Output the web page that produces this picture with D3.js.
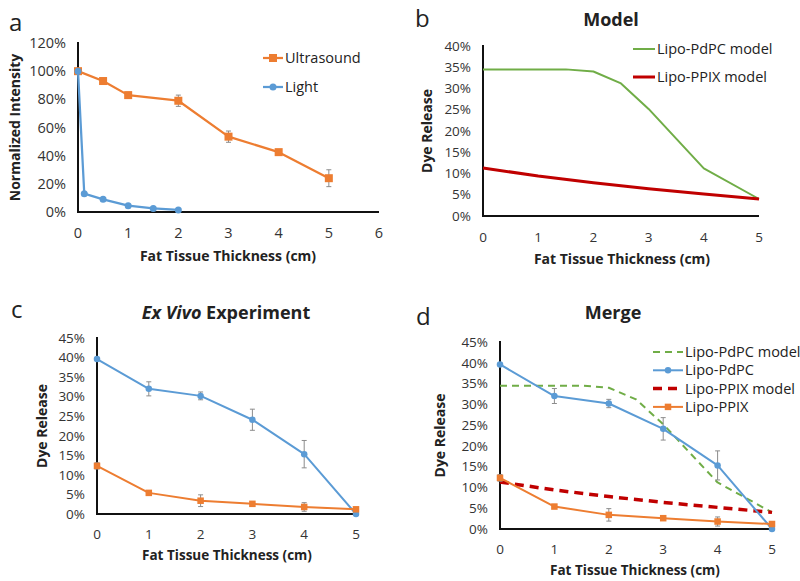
<!DOCTYPE html>
<html>
<head>
<meta charset="utf-8">
<script src="https://cdn.jsdelivr.net/npm/d3@7"></script>
<style>
  body { margin: 0; background: #fff; }
  text { font-family: "Open Sans", "Liberation Sans", sans-serif; fill: #222; }
  .tick-label { fill: #333; }
  .axis-title { font-weight: bold; }
  .panel-title { font-size: 18px; font-weight: bold; }
  .panel-letter { font-size: 24px; }
  .legend-text { font-size: 14.5px; }
</style>
</head>
<body>
<svg id="chart" width="800" height="581"></svg>
<script>
// Colours
const ORANGE = "#ED7D31";
const BLUE = "#5B9BD5";
const GREEN = "#70AD47";
const RED = "#C00000";
const ERR = "#8c8c8c";

// --- Panel a data ---
const usX = [0, 0.5, 1, 2, 3, 4, 5];
const usY = [100, 93, 83, 79, 53.5, 42.5, 24];
const usErr = [0, 1, 2, 4, 4, 0, 6];
const lightX = [0, 0.125, 0.5, 1, 1.5, 2];
const lightY = [100, 13, 9, 4.5, 2.5, 1.5];
const aYTicks = [0, 20, 40, 60, 80, 100, 120];
const aXTicks = [0, 1, 2, 3, 4, 5, 6];

// --- Panel b data (model) ---
const pdpcModelX = [0, 1, 1.5, 2, 2.5, 3, 3.5, 4, 5];
const pdpcModelY = [34.5, 34.5, 34.5, 34, 31.2, 25.2, 18.2, 11.2, 4];
const ppixModelX = [0, 1, 2, 3, 4, 5];
const ppixModelY = [11.3, 9.4, 7.8, 6.4, 5.2, 4.0];
const bYTicks = [0, 5, 10, 15, 20, 25, 30, 35, 40];

// --- Panel c / d data (ex vivo) ---
const expX = [0, 1, 2, 3, 4, 5];
const pdpcY = [39.6, 32, 30.2, 24.1, 15.3, 0];
const pdpcErr = [0, 1.8, 1.0, 2.7, 3.5, 0];
const ppixY = [12.3, 5.4, 3.4, 2.6, 1.8, 1.2];
const ppixErr = [0.8, 0, 1.5, 0.5, 1.1, 0];
const cYTicks = [0, 5, 10, 15, 20, 25, 30, 35, 40, 45];
const cXTicks = [0, 1, 2, 3, 4, 5];

const svg = d3.select("#chart");

function zip(xs, ys, es) {
  return xs.map((x, i) => ({x: x, y: ys[i], e: es ? es[i] : 0}));
}

function drawPanel(p) {
  const g = svg.append("g");
  const x = d3.scaleLinear().domain(p.xDomain).range([p.left, p.right]);
  const y = d3.scaleLinear().domain(p.yDomain).range([p.bottom, p.top]);

  // y tick labels
  g.selectAll("text.ytick").data(p.yTicks).enter().append("text")
    .attr("class", "tick-label")
    .style("font-size", p.tickSize + "px")
    .attr("x", p.left - 12)
    .attr("y", d => y(d))
    .attr("dy", "0.35em")
    .attr("text-anchor", "end")
    .text(d => d + "%");

  // x tick labels
  g.selectAll("text.xtick").data(p.xTicks).enter().append("text")
    .attr("class", "tick-label")
    .style("font-size", p.tickSize + "px")
    .attr("x", d => x(d))
    .attr("y", p.bottom + p.xTickGap)
    .attr("text-anchor", "middle")
    .text(d => d);

  // axes lines
  g.append("line").attr("x1", p.left).attr("x2", p.left)
    .attr("y1", y(p.yDomain[1]) - 1).attr("y2", p.bottom + 1)
    .attr("stroke", "#111").attr("stroke-width", 2);
  g.append("line").attr("x1", p.left - 1).attr("x2", p.right)
    .attr("y1", p.bottom).attr("y2", p.bottom)
    .attr("stroke", "#111").attr("stroke-width", 2);

  // axis titles
  g.append("text").attr("class", "axis-title")
    .style("font-size", "14px")
    .attr("transform", `translate(${p.yTitleX},${(p.top + p.bottom) / 2}) rotate(-90)`)
    .attr("text-anchor", "middle").attr("dy", "0.35em")
    .text(p.yTitle);
  g.append("text").attr("class", "axis-title")
    .style("font-size", p.xTitleSize + "px")
    .attr("x", p.xTitleX).attr("y", p.xTitleY)
    .attr("text-anchor", "middle")
    .text("Fat Tissue Thickness (cm)");

  // panel letter
  g.append("text").attr("class", "panel-letter")
    .attr("x", p.letterX).attr("y", p.letterY).text(p.letter);

  // title
  if (p.title) {
    const t = g.append("text").attr("class", "panel-title")
      .attr("x", p.titleX).attr("y", p.titleY).attr("text-anchor", "middle");
    p.title.forEach(part => {
      t.append("tspan").style("font-style", part.italic ? "italic" : "normal").text(part.text);
    });
  }

  const line = d3.line().x(d => x(d.x)).y(d => y(d.y));

  p.series.forEach(s => {
    const data = zip(s.xs, s.ys, s.errs);
    g.append("path").datum(data)
      .attr("d", line)
      .attr("fill", "none")
      .attr("stroke", s.color)
      .attr("stroke-width", s.width)
      .attr("stroke-dasharray", s.dash || null)
      .attr("stroke-linejoin", "round");

    if (s.errs) {
      const eb = g.selectAll(null).data(data.filter(d => d.e > 0)).enter().append("g");
      eb.append("line").attr("x1", d => x(d.x)).attr("x2", d => x(d.x))
        .attr("y1", d => y(d.y - d.e)).attr("y2", d => y(d.y + d.e))
        .attr("stroke", ERR).attr("stroke-width", 1);
      [-1, 1].forEach(sg => {
        eb.append("line").attr("x1", d => x(d.x) - 2.5).attr("x2", d => x(d.x) + 2.5)
          .attr("y1", d => y(d.y + sg * d.e)).attr("y2", d => y(d.y + sg * d.e))
          .attr("stroke", ERR).attr("stroke-width", 1);
      });
    }

    if (s.marker === "square") {
      g.selectAll(null).data(data).enter().append("rect")
        .attr("x", d => x(d.x) - s.size / 2).attr("y", d => y(d.y) - s.size / 2)
        .attr("width", s.size).attr("height", s.size)
        .attr("fill", s.color);
    } else if (s.marker === "circle") {
      g.selectAll(null).data(data).enter().append("circle")
        .attr("cx", d => x(d.x)).attr("cy", d => y(d.y))
        .attr("r", s.size / 2).attr("fill", s.color);
    }
  });

  // legend
  if (p.legend) {
    p.legend.forEach((item, i) => {
      const ly = p.legendY + i * p.legendStep;
      const s = item.series;
      g.append("line").attr("x1", p.legendX).attr("x2", p.legendX + p.legendLen)
        .attr("y1", ly).attr("y2", ly)
        .attr("stroke", s.color).attr("stroke-width", s.width)
        .attr("stroke-dasharray", s.dash || null);
      const mx = p.legendX + p.legendLen / 2;
      if (s.marker === "square") {
        g.append("rect").attr("x", mx - s.size / 2).attr("y", ly - s.size / 2)
          .attr("width", s.size).attr("height", s.size).attr("fill", s.color);
      } else if (s.marker === "circle") {
        g.append("circle").attr("cx", mx).attr("cy", ly).attr("r", s.size / 2).attr("fill", s.color);
      }
      g.append("text").attr("class", "legend-text")
        .attr("x", p.legendX + p.legendLen + 2).attr("y", ly).attr("dy", "0.35em")
        .text(item.label);
    });
  }
}

// series definitions
const sUltrasound = {xs: usX, ys: usY, errs: usErr, color: ORANGE, width: 2.25, marker: "square", size: 8};
const sLight = {xs: lightX, ys: lightY, color: BLUE, width: 2.25, marker: "circle", size: 7};
const sPdpcModel = {xs: pdpcModelX, ys: pdpcModelY, color: GREEN, width: 2};
const sPpixModel = {xs: ppixModelX, ys: ppixModelY, color: RED, width: 3};
const sPdpcModelDash = {xs: pdpcModelX, ys: pdpcModelY, color: GREEN, width: 2, dash: "7,5"};
const sPpixModelDash = {xs: ppixModelX, ys: ppixModelY, color: RED, width: 3.5, dash: "9,6"};
const sPdpc = {xs: expX, ys: pdpcY, errs: pdpcErr, color: BLUE, width: 2, marker: "circle", size: 6.5};
const sPpix = {xs: expX, ys: ppixY, errs: ppixErr, color: ORANGE, width: 2, marker: "square", size: 6.5};

// a
drawPanel({
  left: 78, right: 379, top: 43, bottom: 212,
  xDomain: [0, 6], yDomain: [0, 120], xTicks: aXTicks, yTicks: aYTicks,
  tickSize: 14.5, xTickGap: 26,
  yTitle: "Normalized Intensity", yTitleX: 15,
  xTitleX: 228, xTitleY: 261, xTitleSize: 14,
  letter: "a", letterX: 9, letterY: 31,
  series: [sUltrasound, sLight],
  legend: [{label: "Ultrasound", series: sUltrasound}, {label: "Light", series: sLight}],
  legendX: 263, legendY: 58, legendStep: 29, legendLen: 20
});

// b
drawPanel({
  left: 483, right: 759, top: 46, bottom: 216,
  xDomain: [0, 5], yDomain: [0, 40], xTicks: cXTicks, yTicks: bYTicks,
  tickSize: 13.5, xTickGap: 26,
  yTitle: "Dye Release", yTitleX: 427,
  xTitleX: 622, xTitleY: 264, xTitleSize: 14,
  letter: "b", letterX: 415, letterY: 27,
  title: [{text: "Model"}], titleX: 611, titleY: 26,
  series: [sPdpcModel, sPpixModel],
  legend: [{label: "Lipo-PdPC model", series: sPdpcModel}, {label: "Lipo-PPIX model", series: sPpixModel}],
  legendX: 633, legendY: 49, legendStep: 28, legendLen: 22
});

// c
drawPanel({
  left: 97, right: 356, top: 338, bottom: 514,
  xDomain: [0, 5], yDomain: [0, 45], xTicks: cXTicks, yTicks: cYTicks,
  tickSize: 13.5, xTickGap: 25,
  yTitle: "Dye Release", yTitleX: 42,
  xTitleX: 227, xTitleY: 560, xTitleSize: 13.5,
  letter: "c", letterX: 11, letterY: 318,
  title: [{text: "Ex Vivo", italic: true}, {text: " Experiment"}], titleX: 226, titleY: 319,
  series: [sPdpc, sPpix]
});

// d
drawPanel({
  left: 500, right: 772, top: 342, bottom: 529,
  xDomain: [0, 5], yDomain: [0, 45], xTicks: cXTicks, yTicks: cYTicks,
  tickSize: 13.5, xTickGap: 25,
  yTitle: "Dye Release", yTitleX: 440,
  xTitleX: 635, xTitleY: 575, xTitleSize: 13.5,
  letter: "d", letterX: 416, letterY: 325,
  title: [{text: "Merge"}], titleX: 613, titleY: 319,
  series: [sPdpcModelDash, sPpixModelDash, sPdpc, sPpix],
  legend: [
    {label: "Lipo-PdPC model", series: sPdpcModelDash},
    {label: "Lipo-PdPC", series: sPdpc},
    {label: "Lipo-PPIX model", series: sPpixModelDash},
    {label: "Lipo-PPIX", series: sPpix}
  ],
  legendX: 653, legendY: 352, legendStep: 18.3, legendLen: 30
});
</script>
</body>
</html>
